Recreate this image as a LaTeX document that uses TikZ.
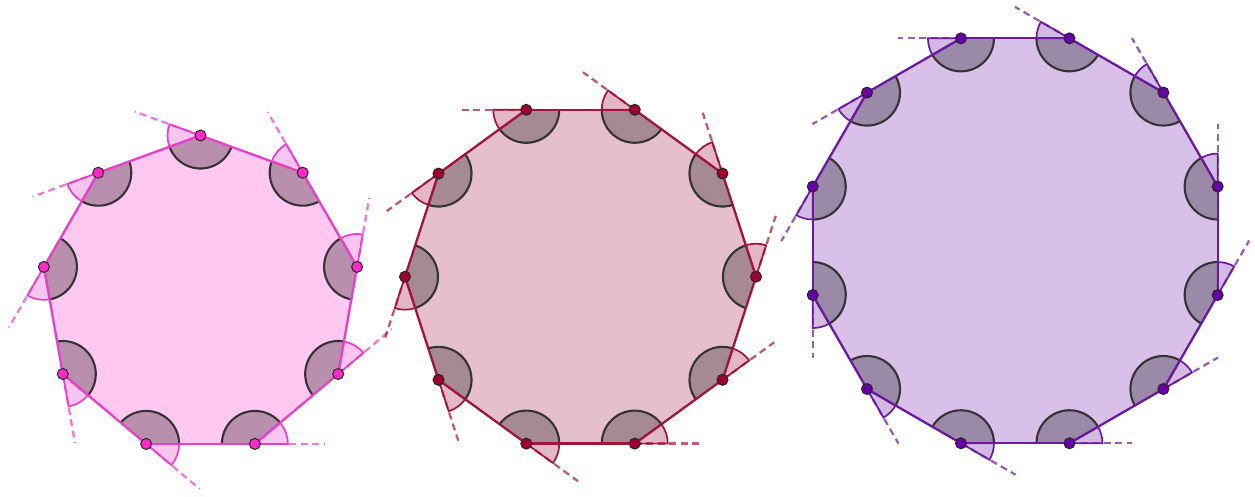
\documentclass[tikz,border=0pt]{standalone}
\usetikzlibrary{calc}

\definecolor{nonaline}{RGB}{232,62,200}
\definecolor{nonafill}{RGB}{255,200,240}
\definecolor{nonadot}{RGB}{255,40,200}
\definecolor{decaline}{RGB}{160,20,62}
\definecolor{decafill}{RGB}{230,191,204}
\definecolor{decadot}{RGB}{160,0,48}
\definecolor{dodecaline}{RGB}{106,26,160}
\definecolor{dodecafill}{RGB}{216,192,232}
\definecolor{dodecadot}{RGB}{106,0,170}

\begin{document}
\begin{tikzpicture}[x=1pt, y=1pt,
    side/.style={line width=2.3pt, line join=round},
    extline/.style={line width=2.3pt, dash pattern=on 7pt off 4.5pt, draw opacity=0.7},
    innerangle/.style={fill=black, fill opacity=0.28},
    innerarc/.style={draw=black!80, line width=2.1pt},
    outerangle/.style={fill opacity=0.3, line width=1.7pt},
    dot/.style={circle, draw=black!85, line width=1pt, minimum size=11pt, inner sep=0pt}
]
\useasboundingbox (0,0) rectangle (1255,496);

% 세 다각형: 이름/변의 수/중심/외접원 반지름/첫 꼭짓점 각/연장선 길이/색
\foreach \p/\n/\cx/\cy/\rr/\start/\len/\lc/\fc/\dc in {
    nona/9/200.5/201.5/159/90/70/nonaline/nonafill/nonadot,
    deca/10/580.5/219.3/175.5/0/64/decaline/decafill/decadot,
    dodeca/12/1015.2/255.2/209.6/15/63/dodecaline/dodecafill/dodecadot} {

    % 꼭짓점
    \foreach \k in {1,...,\n} {
        \pgfmathsetmacro\ang{\start+(\k-1)*360/\n}
        \coordinate (\p-\k) at ($(\cx,\cy)+(\ang:\rr)$);
    }

    % 다각형 내부
    \fill[\fc] (\p-1) \foreach \k in {2,...,\n} {-- (\p-\k)} -- cycle;

    % 내각과 외각
    \foreach \k in {1,...,\n} {
        \pgfmathsetmacro\ang{\start+(\k-1)*360/\n}
        \pgfmathsetmacro\inA{\ang+90+180/\n}
        \pgfmathsetmacro\inB{\ang+270-180/\n}
        \pgfmathsetmacro\exA{\ang+90-180/\n}
        \fill[innerangle] (\p-\k) -- ++(\inA:33) arc[start angle=\inA, end angle=\inB, radius=33pt] -- cycle;
        \draw[innerarc] ($(\p-\k)+(\inA:33)$) arc[start angle=\inA, end angle=\inB, radius=33pt];
        \filldraw[outerangle, draw=\lc, fill=\lc] (\p-\k) -- ++(\exA:33) arc[start angle=\exA, end angle=\inA, radius=33pt] -- cycle;
    }

    % 변
    \foreach \k in {1,...,\n} {
        \pgfmathtruncatemacro\nxt{mod(\k,\n)+1}
        \draw[side, \lc] (\p-\k) -- (\p-\nxt);
    }

    % 변의 연장선
    \foreach \k in {1,...,\n} {
        \pgfmathsetmacro\ang{\start+(\k-1)*360/\n}
        \pgfmathsetmacro\exA{\ang+90-180/\n}
        \coordinate (\p-e\k) at ($(\p-\k)+(\exA:\len)$);
        \draw[extline, \lc] (\p-\k) -- (\p-e\k);
    }

    % 꼭짓점 점
    \foreach \k in {1,...,\n} {
        \node[dot, fill=\dc] (\p-dot\k) at (\p-\k) {};
    }
}

\end{tikzpicture}
\end{document}
